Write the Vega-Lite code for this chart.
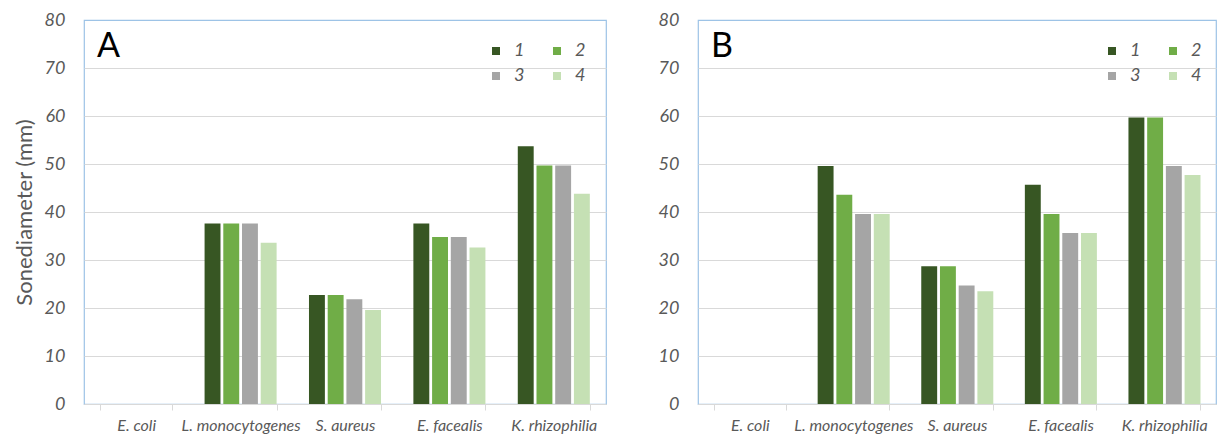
{
  "$schema": "https://vega.github.io/schema/vega-lite/v6.json",
  "padding": {"left": 12, "top": 10, "right": 0, "bottom": 0},
  "background": "white",
  "config": {
    "font": "Lato",
    "view": {"stroke": "#9DC3E6", "strokeWidth": 1.2},
    "concat": {"spacing": 50},
    "axisX": {
      "title": null, "labelAngle": 0, "labelFontStyle": "italic", "labelFontSize": 16,
      "labelColor": "#595959", "tickBand": "extent", "tickColor": "#d9d9d9", "tickSize": 6,
      "domainColor": "#d9d9d9", "labelPadding": 7, "grid": false
    },
    "axisY": {
      "values": [0, 10, 20, 30, 40, 50, 60, 70, 80], "grid": true,
      "gridColor": {"condition": {"test": "datum.value === 80", "value": "transparent"}, "value": "#d9d9d9"},
      "domain": false, "ticks": false, "labelFontStyle": "italic", "labelFontSize": 18,
      "labelColor": "#595959", "labelPadding": 19, "titleFontSize": 22, "titleFontWeight": "normal",
      "titleColor": "#595959", "titlePadding": 8
    },
    "legend": {
      "orient": "none", "direction": "horizontal", "columns": 2, "title": null, "symbolType": "square", "symbolSize": 64,
      "labelFontSize": 18, "labelFontStyle": "italic", "labelColor": "#595959",
      "columnPadding": 23, "rowPadding": 7, "symbolStrokeWidth": 0, "labelOffset": 9
    },
    "title": {"fontSize": 34, "fontWeight": "normal", "color": "#000000", "anchor": "start", "frame": "group"}
  },
  "datasets": {
    "A": [
      {"organism": "E. coli", "series": "1", "value": 0},
      {"organism": "E. coli", "series": "2", "value": 0},
      {"organism": "E. coli", "series": "3", "value": 0},
      {"organism": "E. coli", "series": "4", "value": 0},
      {"organism": "L. monocytogenes", "series": "1", "value": 37.6},
      {"organism": "L. monocytogenes", "series": "2", "value": 37.6},
      {"organism": "L. monocytogenes", "series": "3", "value": 37.6},
      {"organism": "L. monocytogenes", "series": "4", "value": 33.6},
      {"organism": "S. aureus", "series": "1", "value": 22.7},
      {"organism": "S. aureus", "series": "2", "value": 22.7},
      {"organism": "S. aureus", "series": "3", "value": 21.8},
      {"organism": "S. aureus", "series": "4", "value": 19.6},
      {"organism": "E. facealis", "series": "1", "value": 37.6},
      {"organism": "E. facealis", "series": "2", "value": 34.8},
      {"organism": "E. facealis", "series": "3", "value": 34.8},
      {"organism": "E. facealis", "series": "4", "value": 32.6},
      {"organism": "K. rhizophilia", "series": "1", "value": 53.7},
      {"organism": "K. rhizophilia", "series": "2", "value": 49.7},
      {"organism": "K. rhizophilia", "series": "3", "value": 49.7},
      {"organism": "K. rhizophilia", "series": "4", "value": 43.8}
    ],
    "B": [
      {"organism": "E. coli", "series": "1", "value": 0},
      {"organism": "E. coli", "series": "2", "value": 0},
      {"organism": "E. coli", "series": "3", "value": 0},
      {"organism": "E. coli", "series": "4", "value": 0},
      {"organism": "L. monocytogenes", "series": "1", "value": 49.6},
      {"organism": "L. monocytogenes", "series": "2", "value": 43.6},
      {"organism": "L. monocytogenes", "series": "3", "value": 39.6},
      {"organism": "L. monocytogenes", "series": "4", "value": 39.6},
      {"organism": "S. aureus", "series": "1", "value": 28.7},
      {"organism": "S. aureus", "series": "2", "value": 28.7},
      {"organism": "S. aureus", "series": "3", "value": 24.7},
      {"organism": "S. aureus", "series": "4", "value": 23.5},
      {"organism": "E. facealis", "series": "1", "value": 45.7},
      {"organism": "E. facealis", "series": "2", "value": 39.6},
      {"organism": "E. facealis", "series": "3", "value": 35.6},
      {"organism": "E. facealis", "series": "4", "value": 35.6},
      {"organism": "K. rhizophilia", "series": "1", "value": 59.7},
      {"organism": "K. rhizophilia", "series": "2", "value": 59.7},
      {"organism": "K. rhizophilia", "series": "3", "value": 49.6},
      {"organism": "K. rhizophilia", "series": "4", "value": 47.7}
    ]
  },
  "hconcat": [
    {
      "data": {"name": "A"},
      "width": 522, "height": 384,
      "title": {"text": "A", "offset": -53, "dx": 13},
      "mark": {"type": "bar"},
      "encoding": {
        "x": {"field": "organism", "type": "nominal", "sort": ["E. coli", "L. monocytogenes", "S. aureus", "E. facealis", "K. rhizophilia"],
              "scale": {"paddingInner": 0.31, "paddingOuter": 0.155}},
        "xOffset": {"field": "series", "type": "nominal", "scale": {"paddingInner": 0.15}},
        "y": {"field": "value", "type": "quantitative", "scale": {"domain": [0, 80], "nice": false},
              "axis": {"title": "Sonediameter (mm)"}},
        "color": {"field": "series", "type": "nominal",
                  "scale": {"domain": ["1", "2", "3", "4"], "range": ["#375623", "#70AD47", "#A5A5A5", "#C5E0B4"]},
                  "legend": {"legendX": 403, "legendY": 22}}
      }
    },
    {
      "data": {"name": "B"},
      "width": 518, "height": 384,
      "title": {"text": "B", "offset": -53, "dx": 13},
      "mark": {"type": "bar"},
      "encoding": {
        "x": {"field": "organism", "type": "nominal", "sort": ["E. coli", "L. monocytogenes", "S. aureus", "E. facealis", "K. rhizophilia"],
              "scale": {"paddingInner": 0.31, "paddingOuter": 0.155}},
        "xOffset": {"field": "series", "type": "nominal", "scale": {"paddingInner": 0.15}},
        "y": {"field": "value", "type": "quantitative", "scale": {"domain": [0, 80], "nice": false},
              "axis": {"title": null}},
        "color": {"field": "series", "type": "nominal",
                  "scale": {"domain": ["1", "2", "3", "4"], "range": ["#375623", "#70AD47", "#A5A5A5", "#C5E0B4"]},
                  "legend": {"legendX": 405, "legendY": 22}}
      }
    }
  ],
  "resolve": {"legend": {"color": "independent"}, "scale": {"x": "independent", "y": "independent"}}
}
